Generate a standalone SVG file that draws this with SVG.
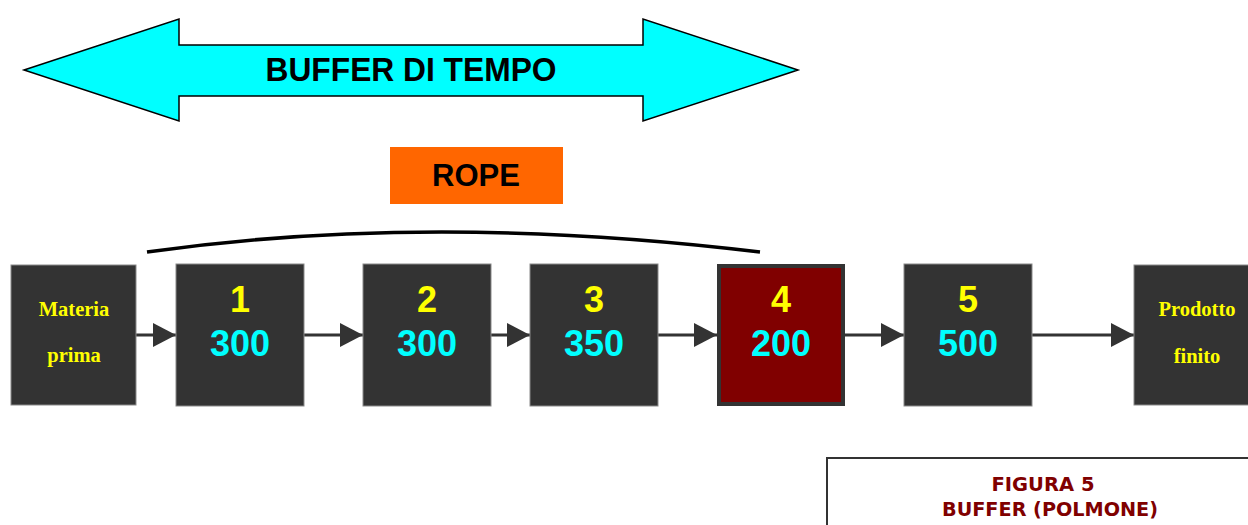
<svg xmlns="http://www.w3.org/2000/svg" width="1248" height="525" viewBox="0 0 1248 525">
<defs>
<style>
.box{fill:#333333;stroke:#8a8a8a;stroke-width:1}
.num{font-family:"Liberation Sans",Arial,sans-serif;font-weight:bold;font-size:36px;text-anchor:middle}
.y{fill:#FFFF00}
.c{fill:#00FFFF}
.tm{font-family:"Liberation Serif","Times New Roman",serif;font-weight:bold;font-size:20.5px;fill:#FFFF00;text-anchor:middle}
.conn{stroke:#333333;stroke-width:3;fill:none}
.fig{font-family:"DejaVu Sans",Tahoma,sans-serif;font-weight:bold;font-size:20px;fill:#800000;text-anchor:middle}
</style>
<marker id="ah" markerUnits="userSpaceOnUse" markerWidth="24" markerHeight="26" refX="23" refY="12" orient="auto">
<path d="M0,0 L23,12 L0,24 Z" fill="#333333"/>
</marker>
</defs>
<rect width="1248" height="525" fill="#FFFFFF"/>

<g id="buffer-arrow">
<path d="M24,70 L179,19 L179,45 L643,45 L643,19 L798,70 L643,121 L643,96 L179,96 L179,121 Z" fill="#00FFFF" stroke="#000000" stroke-width="1.5" stroke-linejoin="miter"/>
<text x="411" y="81" font-family="Liberation Sans,Arial,sans-serif" font-weight="bold" font-size="33" text-anchor="middle" textLength="291" lengthAdjust="spacingAndGlyphs" fill="#000000">BUFFER DI TEMPO</text>
</g>

<g id="rope">
<rect x="390" y="147" width="173" height="57" fill="#FF6600"/>
<text x="476" y="186" font-family="Liberation Sans,Arial,sans-serif" font-weight="bold" font-size="31" text-anchor="middle" fill="#000000">ROPE</text>
</g>

<g id="rope-curve">
<path d="M147,252 Q430,212 760,252" stroke="#000000" stroke-width="3.5" fill="none"/>
</g>

<g id="connectors">
<line class="conn" x1="136" y1="335" x2="176" y2="335" marker-end="url(#ah)"/>
<line class="conn" x1="304" y1="335" x2="363" y2="335" marker-end="url(#ah)"/>
<line class="conn" x1="491" y1="335" x2="530" y2="335" marker-end="url(#ah)"/>
<line class="conn" x1="658" y1="335" x2="717" y2="335" marker-end="url(#ah)"/>
<line class="conn" x1="845" y1="335" x2="904" y2="335" marker-end="url(#ah)"/>
<line class="conn" x1="1032" y1="335" x2="1134" y2="335" marker-end="url(#ah)"/>
</g>

<g id="materia-prima">
<rect class="box" x="11" y="265" width="125" height="140"/>
<text class="tm" x="74" y="316">Materia</text>
<text class="tm" x="74" y="362">prima</text>
</g>

<g id="node-1">
<rect class="box" x="176" y="264" width="128" height="142"/>
<text class="num y" x="240" y="312">1</text>
<text class="num c" x="240" y="356">300</text>
</g>

<g id="node-2">
<rect class="box" x="363" y="264" width="128" height="142"/>
<text class="num y" x="427" y="312">2</text>
<text class="num c" x="427" y="356">300</text>
</g>

<g id="node-3">
<rect class="box" x="530" y="264" width="128" height="142"/>
<text class="num y" x="594" y="312">3</text>
<text class="num c" x="594" y="356">350</text>
</g>

<g id="node-4">
<rect x="719" y="266" width="124" height="138" fill="#800000" stroke="#333333" stroke-width="4"/>
<text class="num y" x="781" y="312">4</text>
<text class="num c" x="781" y="356">200</text>
</g>

<g id="node-5">
<rect class="box" x="904" y="264" width="128" height="142"/>
<text class="num y" x="968" y="312">5</text>
<text class="num c" x="968" y="356">500</text>
</g>

<g id="prodotto-finito">
<rect class="box" x="1134" y="265" width="120" height="140"/>
<text class="tm" x="1197" y="316">Prodotto</text>
<text class="tm" x="1197" y="363">finito</text>
</g>

<g id="caption">
<rect x="827" y="458" width="430" height="80" fill="#FFFFFF" stroke="#333333" stroke-width="2"/>
<text class="fig" x="1043" y="491" textLength="103" lengthAdjust="spacingAndGlyphs">FIGURA 5</text>
<text class="fig" x="1050" y="516" textLength="216" lengthAdjust="spacingAndGlyphs">BUFFER (POLMONE)</text>
</g>
</svg>
